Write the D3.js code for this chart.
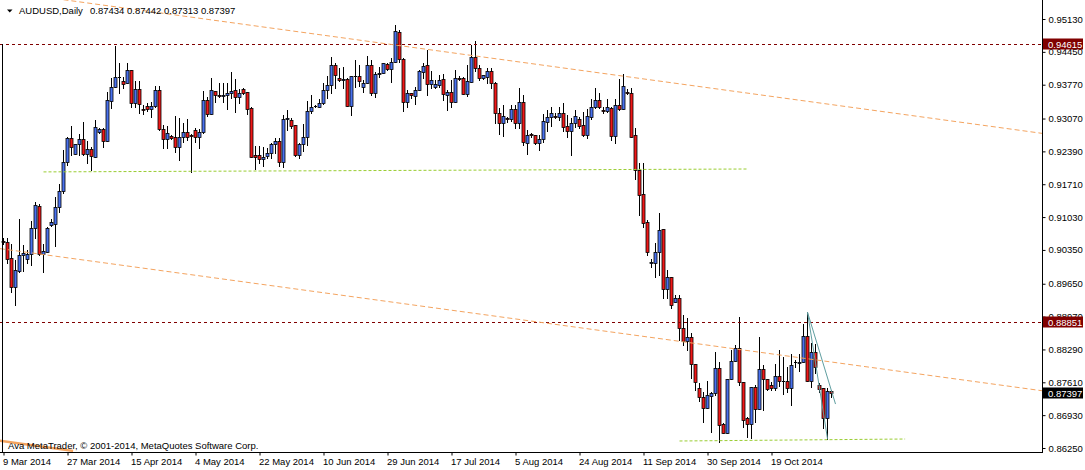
<!DOCTYPE html>
<html>
<head>
<meta charset="utf-8">
<script src="https://cdn.jsdelivr.net/npm/d3@7"></script>
<style>
body { margin: 0; background: #fff; }
svg { display: block; font-family: "Liberation Sans", Arial, sans-serif; font-size: 9.5px; }
</style>
</head>
<body>
<div id="chart"></div>
<script>
var width = 1085, height = 470;
var plotRight = 1042, plotBottom = 452;

// AUDUSD daily candles
var opens = [
0.9053,0.9051,0.9018,0.8958,0.8991,0.9024,0.9016,0.9027,0.9080,0.9126,
0.9027,0.9031,0.9087,0.9089,0.9124,0.9157,0.9217,0.9267,0.9234,0.9254,
0.9265,0.9234,0.9244,0.9227,0.9279,0.9285,0.9260,0.9343,0.9372,0.9393,
0.9385,0.9380,0.9407,0.9339,0.9368,0.9327,0.9333,0.9327,0.9333,0.9366,
0.9285,0.9265,0.9271,0.9269,0.9248,0.9269,0.9279,0.9273,0.9283,0.9269,
0.9279,0.9345,0.9316,0.9364,0.9356,0.9354,0.9356,0.9360,0.9366,0.9351,
0.9368,0.9362,0.9329,0.9231,0.9231,0.9223,0.9229,0.9236,0.9254,0.9260,
0.9217,0.9306,0.9304,0.9294,0.9231,0.9254,0.9269,0.9323,0.9332,0.9331,
0.9339,0.9366,0.9376,0.9418,0.9391,0.9387,0.9389,0.9333,0.9395,0.9395,
0.9372,0.9380,0.9418,0.9360,0.9399,0.9401,0.9420,0.9409,0.9424,0.9486,
0.9430,0.9341,0.9360,0.9354,0.9366,0.9403,0.9418,0.9378,0.9372,0.9376,
0.9389,0.9356,0.9362,0.9341,0.9391,0.9391,0.9358,0.9383,0.9434,0.9412,
0.9391,0.9393,0.9405,0.9380,0.9318,0.9298,0.9308,0.9306,0.9327,0.9298,
0.9341,0.9256,0.9275,0.9273,0.9256,0.9265,0.9300,0.9310,0.9312,0.9310,
0.9318,0.9292,0.9281,0.9298,0.9306,0.9294,0.9273,0.9310,0.9331,0.9345,
0.9325,0.9323,0.9329,0.9271,0.9335,0.9327,0.9361,0.9360,0.9273,0.9200,
0.9151,0.9093,0.9008,0.9008,0.9031,0.9078,0.8954,0.8979,0.8927,0.8935,
0.8873,0.8846,0.8855,0.8799,0.8749,0.8730,0.8708,0.8733,0.8739,0.8790,
0.8675,0.8656,0.8768,0.8805,0.8832,0.8762,0.8687,0.8675,0.8751,0.8706,
0.8788,0.8768,0.8755,0.8749,0.8774,0.8764,0.8764,0.8749,0.8803,0.8801,
0.8803,0.8857,0.8764,0.8824,0.8755,0.8749,0.8687,0.87434];
var highs = [
0.9060,0.9060,0.9047,0.9014,0.9099,0.9045,0.9035,0.9095,0.9134,0.9130,
0.9047,0.9082,0.9099,0.9145,0.9171,0.9242,0.9269,0.9292,0.9254,0.9275,
0.9300,0.9260,0.9248,0.9304,0.9287,0.9287,0.9362,0.9391,0.9457,0.9422,
0.9393,0.9422,0.9407,0.9385,0.9385,0.9335,0.9339,0.9341,0.9374,0.9374,
0.9294,0.9292,0.9273,0.9312,0.9308,0.9298,0.9306,0.9275,0.9287,0.9285,
0.9364,0.9351,0.9391,0.9364,0.9380,0.9380,0.9380,0.9403,0.9389,0.9368,
0.9370,0.9362,0.9331,0.9250,0.9250,0.9248,0.9246,0.9256,0.9267,0.9267,
0.9314,0.9325,0.9308,0.9294,0.9256,0.9296,0.9343,0.9356,0.9335,0.9347,
0.9380,0.9395,0.9434,0.9422,0.9411,0.9414,0.9391,0.9395,0.9428,0.9418,
0.9387,0.9436,0.9428,0.9403,0.9414,0.9422,0.9422,0.9432,0.9501,0.9490,
0.9432,0.9366,0.9360,0.9372,0.9407,0.9422,0.9449,0.9405,0.9387,0.9397,
0.9399,0.9366,0.9387,0.9407,0.9395,0.9393,0.9418,0.9459,0.9467,0.9418,
0.9397,0.9412,0.9412,0.9383,0.9329,0.9335,0.9310,0.9335,0.9335,0.9370,
0.9356,0.9283,0.9277,0.9273,0.9273,0.9316,0.9325,0.9331,0.9318,0.9331,
0.9339,0.9314,0.9308,0.9325,0.9310,0.9320,0.9327,0.9347,0.9370,0.9360,
0.9331,0.9347,0.9331,0.9347,0.9389,0.9399,0.9368,0.9370,0.9287,0.9215,
0.9215,0.9097,0.9016,0.9050,0.9111,0.9078,0.8993,0.8979,0.8941,0.8941,
0.8900,0.8894,0.8863,0.8799,0.8759,0.8741,0.8764,0.8741,0.8824,0.8803,
0.8677,0.8768,0.8828,0.8838,0.8896,0.8762,0.8689,0.8751,0.8755,0.8855,
0.8797,0.8768,0.8762,0.8799,0.8828,0.8813,0.8793,0.8820,0.8807,0.8820,
0.8882,0.8906,0.8842,0.8840,0.8759,0.8749,0.8749,0.87442];
var lows = [
0.9047,0.9008,0.8948,0.8921,0.8989,0.8991,0.9008,0.9004,0.9060,0.9024,
0.8989,0.9031,0.9084,0.9043,0.9113,0.9153,0.9211,0.9231,0.9234,0.9231,
0.9231,0.9215,0.9200,0.9227,0.9277,0.9248,0.9260,0.9329,0.9372,0.9360,
0.9370,0.9380,0.9331,0.9331,0.9318,0.9316,0.9323,0.9310,0.9331,0.9283,
0.9246,0.9246,0.9265,0.9238,0.9221,0.9258,0.9263,0.9196,0.9258,0.9246,
0.9277,0.9312,0.9316,0.9341,0.9351,0.9341,0.9327,0.9349,0.9320,0.9339,
0.9358,0.9316,0.9227,0.9202,0.9215,0.9209,0.9225,0.9225,0.9236,0.9209,
0.9207,0.9283,0.9287,0.9229,0.9225,0.9240,0.9252,0.9318,0.9331,0.9331,
0.9337,0.9349,0.9360,0.9370,0.9385,0.9370,0.9333,0.9314,0.9372,0.9374,
0.9362,0.9380,0.9356,0.9351,0.9393,0.9401,0.9407,0.9383,0.9424,0.9424,
0.9323,0.9331,0.9349,0.9337,0.9366,0.9391,0.9356,0.9370,0.9370,0.9372,
0.9345,0.9325,0.9331,0.9341,0.9387,0.9358,0.9354,0.9383,0.9405,0.9387,
0.9389,0.9380,0.9370,0.9298,0.9275,0.9271,0.9300,0.9302,0.9287,0.9287,
0.9252,0.9234,0.9269,0.9254,0.9242,0.9258,0.9281,0.9292,0.9308,0.9304,
0.9281,0.9269,0.9231,0.9289,0.9287,0.9271,0.9267,0.9306,0.9329,0.9329,
0.9318,0.9320,0.9263,0.9256,0.9325,0.9327,0.9358,0.9269,0.9182,0.9107,
0.9082,0.9024,0.9000,0.8979,0.8983,0.8935,0.8935,0.8914,0.8927,0.8849,
0.8838,0.8828,0.8770,0.8745,0.8722,0.8679,0.8708,0.8658,0.8735,0.8637,
0.8656,0.8656,0.8768,0.8805,0.8755,0.8668,0.8648,0.8646,0.8679,0.8706,
0.8704,0.8745,0.8745,0.8745,0.8753,0.8737,0.8741,0.8714,0.8793,0.8784,
0.8803,0.8764,0.8751,0.8780,0.8741,0.8666,0.8644,0.87313];
var closes = [
0.9051,0.9016,0.8958,0.8993,0.9024,0.9029,0.9027,0.9080,0.9128,0.9027,
0.9033,0.9080,0.9093,0.9124,0.9157,0.9217,0.9267,0.9248,0.9254,0.9265,
0.9234,0.9244,0.9229,0.9289,0.9285,0.9260,0.9345,0.9372,0.9393,0.9392,
0.9378,0.9407,0.9339,0.9368,0.9337,0.9325,0.9327,0.9333,0.9366,0.9285,
0.9265,0.9277,0.9267,0.9248,0.9269,0.9279,0.9269,0.9271,0.9269,0.9279,
0.9345,0.9316,0.9366,0.9356,0.9354,0.9356,0.9360,0.9364,0.9351,0.9360,
0.9360,0.9327,0.9227,0.9227,0.9223,0.9227,0.9236,0.9254,0.9260,0.9217,
0.9306,0.9308,0.9292,0.9231,0.9254,0.9269,0.9323,0.9331,0.9333,0.9339,
0.9366,0.9376,0.9418,0.9397,0.9387,0.9389,0.9333,0.9395,0.9394,0.9385,
0.9380,0.9418,0.9360,0.9399,0.9401,0.9422,0.9409,0.9424,0.9488,0.9430,
0.9341,0.9360,0.9356,0.9366,0.9405,0.9416,0.9378,0.9387,0.9378,0.9387,
0.9358,0.9362,0.9341,0.9391,0.9389,0.9358,0.9385,0.9434,0.9412,0.9391,
0.9397,0.9405,0.9380,0.9318,0.9298,0.9312,0.9306,0.9327,0.9298,0.9341,
0.9258,0.9273,0.9273,0.9256,0.9265,0.9302,0.9310,0.9318,0.9310,0.9318,
0.9289,0.9281,0.9298,0.9312,0.9292,0.9273,0.9312,0.9331,0.9345,0.9331,
0.9323,0.9331,0.9271,0.9335,0.9327,0.9374,0.9360,0.9269,0.9200,0.9149,
0.9091,0.9031,0.9010,0.9031,0.9076,0.8954,0.8979,0.8921,0.8935,0.8873,
0.8846,0.8855,0.8799,0.8762,0.8730,0.8708,0.8735,0.8739,0.8790,0.8673,
0.8656,0.8768,0.8805,0.8832,0.8762,0.8683,0.8675,0.8751,0.8706,0.8788,
0.8768,0.8747,0.8749,0.8774,0.8764,0.8763,0.8749,0.8797,0.8802,0.8803,
0.8857,0.8764,0.8824,0.8793,0.8747,0.8687,0.8743,0.87397];

var dateLabels = ["9 Mar 2014", "27 Mar 2014", "15 Apr 2014", "4 May 2014", "22 May 2014",
  "10 Jun 2014", "29 Jun 2014", "17 Jul 2014", "5 Aug 2014", "24 Aug 2014",
  "11 Sep 2014", "30 Sep 2014", "19 Oct 2014"];
var barsPerLabel = 16;
var priceTicks = [0.95130, 0.94450, 0.93770, 0.93070, 0.92390, 0.91710, 0.91030,
  0.90350, 0.89650, 0.88970, 0.88290, 0.87610, 0.86930, 0.86250];
var levels = [0.94615, 0.88851];
var lastPrice = 0.87397;
var symbolName = "AUDUSD,Daily";
var headerValues = "0.87434 0.87442 0.87313 0.87397";
var copyright = "Ava MetaTrader, \u00a9 2001-2014, MetaQuotes Software Corp.";

// drawn objects as [bar index, price] anchors
var channelLines = [[[20, 0.95473], [250, 0.92872]], [[0, 0.90367], [250, 0.87544]]];
var supportLines = [[[10, 0.91965], [186, 0.92025]], [[169, 0.86395], [225.4, 0.86436]]];
var fanLines = [[[201, 0.8906], [208, 0.8716]], [[201, 0.8906], [206, 0.8644]]];
var cornerLine = [[-0.9, 0.8640], [17.4, 0.8619]];

var bull = "#4a72ee", bear = "#f01818", orange = "#f4a460", maroon = "#800000";

var x = d3.scaleLinear()
    .domain([0, 259.625])
    .range([3.5, plotRight]);

var y = d3.scaleLinear()
    .domain([0.86250, 0.95130])
    .range([448, 19]);

function yr(v) { return Math.round(y(v)); }

var svg = d3.select('#chart')
    .append("svg")
    .attr("width", width)
    .attr("height", height);

svg.append("defs").append("clipPath").attr("id", "plot")
    .append("rect").attr("x", 0).attr("y", 0).attr("width", plotRight).attr("height", plotBottom);

// candles
var candles = svg.append("g");
candles.selectAll(".bar")
    .data(d3.range(closes.length))
    .enter().append("g").attr("class", "bar")
    .each(function(i) {
        var g = d3.select(this);
        var cx = x(i);
        var top = yr(Math.max(opens[i], closes[i]));
        var bot = yr(Math.min(opens[i], closes[i]));
        g.append("line")
            .attr("x1", cx).attr("x2", cx)
            .attr("y1", yr(highs[i])).attr("y2", yr(lows[i]) + 1)
            .attr("stroke", "#000").attr("shape-rendering", "crispEdges");
        if (bot - top < 1) {
            g.append("line")
                .attr("x1", cx - 1.5).attr("x2", cx + 1.5)
                .attr("y1", top + 0.5).attr("y2", top + 0.5)
                .attr("stroke", "#000").attr("shape-rendering", "crispEdges");
        } else {
            g.append("rect")
                .attr("x", cx - 1.5).attr("y", top + 0.5)
                .attr("width", 3).attr("height", bot - top)
                .attr("fill", closes[i] >= opens[i] ? bull : bear)
                .attr("stroke", "#000").attr("stroke-width", 0.8);
        }
    });

// objects
var objects = svg.append("g").attr("clip-path", "url(#plot)");

function extend(a, b) {
    var x1 = x(a[0]), y1 = y(a[1]), x2 = x(b[0]), y2 = y(b[1]);
    var k = (y2 - y1) / (x2 - x1);
    return [[0, y1 - k * x1], [plotRight, y1 + k * (plotRight - x1)]];
}

levels.forEach(function(p) {
    objects.append("line")
        .attr("x1", 0).attr("x2", plotRight)
        .attr("y1", yr(p) + 0.5).attr("y2", yr(p) + 0.5)
        .attr("stroke", maroon).attr("stroke-dasharray", "3,3");
});

channelLines.forEach(function(l) {
    var e = extend(l[0], l[1]);
    objects.append("line")
        .attr("x1", e[0][0]).attr("y1", e[0][1])
        .attr("x2", e[1][0]).attr("y2", e[1][1])
        .attr("stroke", orange).attr("stroke-dasharray", "5,3");
});

supportLines.forEach(function(l) {
    objects.append("line")
        .attr("x1", x(l[0][0])).attr("y1", y(l[0][1]))
        .attr("x2", x(l[1][0])).attr("y2", y(l[1][1]))
        .attr("stroke", "#9acd32").attr("stroke-dasharray", "3,2");
});

fanLines.forEach(function(l) {
    objects.append("line")
        .attr("x1", x(l[0][0])).attr("y1", y(l[0][1]))
        .attr("x2", x(l[1][0])).attr("y2", y(l[1][1]))
        .attr("stroke", "#5f9ea0");
});

objects.append("line")
    .attr("x1", x(cornerLine[0][0])).attr("y1", y(cornerLine[0][1]))
    .attr("x2", x(cornerLine[1][0])).attr("y2", y(cornerLine[1][1]))
    .attr("stroke", orange).attr("stroke-width", 2.5);

// frame
var frame = svg.append("g").attr("shape-rendering", "crispEdges").attr("stroke", "#000");
frame.append("line").attr("x1", plotRight + 0.5).attr("x2", plotRight + 0.5).attr("y1", 0).attr("y2", plotBottom + 1);
frame.append("line").attr("x1", 0).attr("x2", plotRight + 1).attr("y1", plotBottom + 0.5).attr("y2", plotBottom + 0.5);
frame.append("line").attr("x1", 2.5).attr("x2", 2.5).attr("y1", yr(levels[0])).attr("y2", plotBottom);

// price axis
var yAxis = d3.axisRight(y).tickValues(priceTicks).tickFormat(d3.format(".5f")).tickSize(3).tickPadding(3);
var axisY = svg.append("g")
    .attr("transform", "translate(" + (plotRight + 0.5) + ",0)")
    .call(yAxis);
axisY.select(".domain").remove();
axisY.selectAll("text").attr("fill", "#000").style("font-size", "9.5px").style("font-family", null);
axisY.selectAll("line").attr("stroke", "#000");

// time axis
var xAxis = d3.axisBottom(x)
    .tickValues(dateLabels.map(function(d, i) { return i * barsPerLabel; }))
    .tickFormat(function(d, i) { return dateLabels[i]; })
    .tickSize(3);
var axisX = svg.append("g")
    .attr("transform", "translate(0," + (plotBottom + 0.5) + ")")
    .call(xAxis);
axisX.select(".domain").remove();
axisX.selectAll("line").attr("stroke", "#000");
axisX.selectAll("text")
    .attr("fill", "#000").attr("text-anchor", "start")
    .attr("x", -1).attr("y", 12).attr("dy", null)
    .style("font-size", "9.5px").style("font-family", null);

// price tags
function tag(p, color) {
    var t = svg.append("g").attr("transform", "translate(0," + yr(p) + ")");
    t.append("rect").attr("x", plotRight + 1).attr("y", -5.5).attr("width", width - plotRight - 3).attr("height", 11).attr("fill", color);
    t.append("text").attr("x", plotRight + 6).attr("y", 3.5).attr("fill", "#fff").text(d3.format(".5f")(p));
}
levels.forEach(function(p) { tag(p, maroon); });
tag(lastPrice, "#000");

// header and copyright
svg.append("path").attr("d", "M7,9.5L12.5,9.5L9.75,12.5Z").attr("fill", "#000");
svg.append("text").attr("x", 19).attr("y", 14).attr("fill", "#000").text(symbolName);
svg.append("text").attr("x", 90).attr("y", 14).attr("fill", "#000").text(headerValues);
svg.append("text").attr("x", 8).attr("y", 448.5).attr("fill", "#000").text(copyright);
</script>
</body>
</html>
